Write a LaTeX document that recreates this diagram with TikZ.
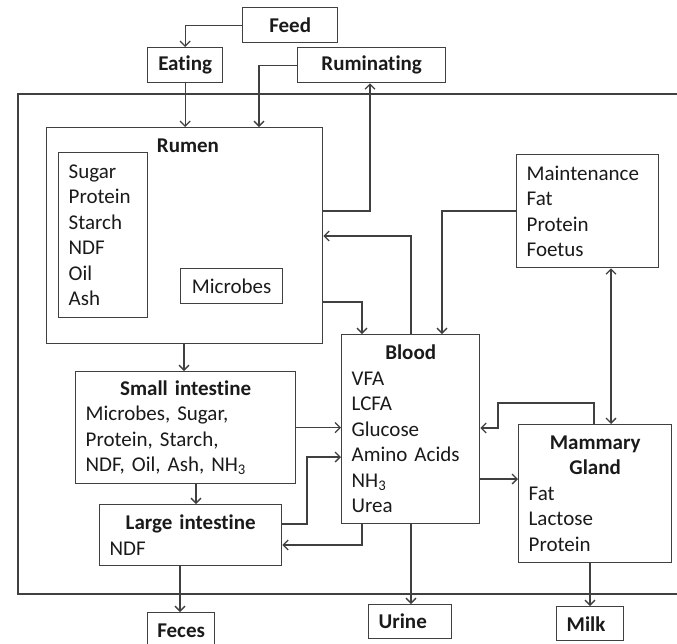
\documentclass[tikz,border=0pt]{standalone}
\usepackage{fontspec}
\setmainfont{Carlito}[Ligatures=NoCommon]
\usetikzlibrary{arrows.meta}
\definecolor{linec}{HTML}{404040}
\definecolor{txtc}{HTML}{1A1A1A}
\begin{document}
\begin{tikzpicture}[x=1pt,y=-1pt,
  font=\fontsize{21}{25.5}\selectfont, text=txtc,
  box/.style={draw=linec, line width=1.3pt, anchor=north west, inner sep=0pt, align=center},
  listbox/.style={box, inner xsep=10pt, align=left},
  tip/.tip={Straight Barb[length=5pt,width=10pt]},
  conn/.style={draw=linec, line width=1.3pt, -tip},
  conntwo/.style={draw=linec, line width=1.3pt, tip-tip},
  frame/.style={draw=linec, line width=1.3pt}]
\useasboundingbox (0,0) rectangle (677,643);
\clip (0,0) rectangle (677,643);
% outer frame
\draw[frame] (690,94) -- (18,94) -- (18,594) -- (690,594);
% boxes
\node[box, minimum width=95, minimum height=35] (feed) at (242,7) {\textbf{Feed}};
\node[box, minimum width=75, minimum height=35] (eating) at (147,47) {\textbf{Eating}};
\node[box, minimum width=148, minimum height=35] (rum) at (297,47) {\textbf{Ruminating}};
\node[box, minimum width=276, minimum height=216] (rumen) at (46,127) {};
\node (rumentitle) at (188,146) {\textbf{Rumen}};
\node[listbox, text width=69, minimum height=165] (rumlist) at (58,152) {Sugar\\Protein\\Starch\\NDF\\Oil\\Ash};
\node[box, minimum width=102, minimum height=35] (microbes) at (180,268) {Microbes};
\node[listbox, text width=122, minimum height=113] (maint) at (516,154) {Maintenance\\Fat\\Protein\\Foetus};
\node[listbox, text width=118, minimum height=189] (blood) at (341,334) {\makebox[\linewidth]{\textbf{Blood}}\\VFA\\LCFA\\Glucose\\Amino Acids\\NH\textsubscript{3}\\Urea};
\node[listbox, text width=200, minimum height=112] (si) at (75,371) {\makebox[\linewidth]{\textbf{Small intestine}}\\Microbes, Sugar,\\Protein, Starch,\\NDF, Oil, Ash, NH\textsubscript{3}};
\node[listbox, text width=162, minimum height=61] (li) at (99,504) {\makebox[\linewidth]{\textbf{Large intestine}}\\NDF};
\node[listbox, text width=133, minimum height=138] (mam) at (518,424) {\makebox[\linewidth]{\textbf{Mammary}}\\\makebox[\linewidth]{\textbf{Gland}}\\Fat\\Lactose\\Protein};
\node[listbox, text width=63, minimum height=34] (urine) at (368,604) {\textbf{Urine}};
\node[listbox, text width=47, minimum height=34] (milk) at (556,606) {\textbf{Milk}};
\node[box, minimum width=67, minimum height=36] (feces) at (147,612) {\textbf{Feces}};
% connectors
\draw[conn] (feed.west) -| (eating.north);
\draw[conn] (eating.south) -- (eating.south |- rumen.north);
\draw[conn] (rum.west) -| (259,0 |- rumen.north);
\draw[conn] (0,211 -| rumen.east) -| (370,0 |- rum.south);
\draw[conn] (411,0 |- blood.north) |- (0,236 -| rumen.east);
\draw[conn] (0,302 -| rumen.east) -| (362,0 |- blood.north);
\draw[conn] (0,211 -| maint.west) -| (442,0 |- blood.north);
\draw[conntwo] (611,0 |- maint.south) -- (611,0 |- mam.north);
\draw[conn] (594,0 |- mam.north) |- (498,403) |- (0,428 -| blood.east);
\draw[conn] (0,479 -| blood.east) -- (0,479 -| mam.west);
\draw[conn] (411,0 |- blood.south) -- (411,0 |- urine.north);
\draw[conn] (590,0 |- mam.south) -- (590,0 |- milk.north);
\draw[conn] (184,0 |- rumen.south) -- (184,0 |- si.north);
\draw[conn] (si.east) -- (si.east -| blood.west);
\draw[conn] (196,0 |- si.south) -- (196,0 |- li.north);
\draw[conn] (0,524 -| li.east) -| (307,457) -- (0,457 -| blood.west);
\draw[conn] (362,0 |- blood.south) |- (0,545 -| li.east);
\draw[conn] (180,0 |- li.south) -- (180,0 |- feces.north);
\end{tikzpicture}
\end{document}
